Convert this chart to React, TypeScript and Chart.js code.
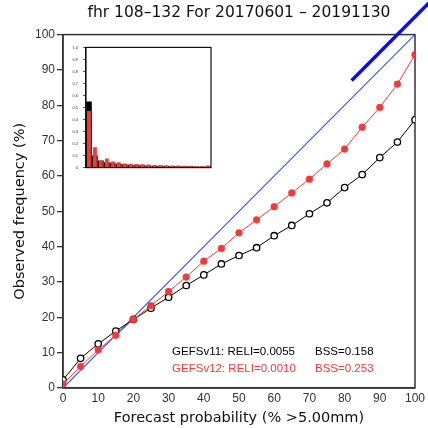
import React, { useEffect, useRef } from "react";
import { Chart, registerables } from "chart.js";

Chart.register(...registerables);

// ---- data ----
const probs = [0, 5, 10, 15, 20, 25, 30, 35, 40, 45, 50, 55, 60, 65, 70, 75, 80, 85, 90, 95, 100];
const gefsV11 = [2.3, 8.4, 12.5, 16.1, 19.4, 22.6, 25.7, 29.0, 32.0, 35.1, 37.5, 39.7, 43.1, 46.0, 49.3, 52.4, 56.7, 60.4, 65.2, 69.6, 75.9];
const gefsV12 = [1.1, 6.1, 10.8, 14.9, 19.4, 23.3, 27.3, 31.4, 35.9, 39.5, 43.9, 47.6, 51.3, 55.2, 59.1, 63.4, 67.6, 73.8, 79.4, 86.0, 94.3];
const perfectX = [0, 100];
const perfectY = [0, 100];
const outerLineX = [82, 104];
const outerLineY = [87, 109];
const histV11 = [0.55, 0.1, 0.06, 0.045, 0.04, 0.032, 0.028, 0.024, 0.022, 0.02, 0.018, 0.016, 0.015, 0.014, 0.013, 0.012, 0.011, 0.011, 0.01, 0.01, 0.01];
const histV12 = [0.47, 0.17, 0.055, 0.075, 0.05, 0.045, 0.035, 0.032, 0.03, 0.028, 0.025, 0.022, 0.02, 0.02, 0.018, 0.017, 0.016, 0.015, 0.014, 0.014, 0.018];

const titleText = "fhr 108–132 For 20170601 – 20191130";
const xTitle = "Forecast probability (% >5.00mm)";
const yTitle = "Observed frequency (%)";
const statsV11 = ["GEFSv11: RELI=0.0055", "BSS=0.158"];
const statsV12 = ["GEFSv12: RELI=0.0010", "BSS=0.253"];

const RED = "#f23a3a";
const AXIS = "#333333";
const FONT = "'DejaVu Sans', sans-serif";
const TFONT = "'Liberation Sans', sans-serif";

const framePlugin = {
  id: "frame",
  beforeDatasetsDraw(chart: any) {
    const { ctx, chartArea: a } = chart;
    ctx.save();
    ctx.strokeStyle = AXIS;
    ctx.lineWidth = 1.5;
    ctx.strokeRect(a.left, a.top, a.right - a.left, a.bottom - a.top);
    ctx.restore();
  },
};

const statsPlugin = {
  id: "stats",
  afterDraw(chart: any) {
    const { ctx, scales } = chart;
    const xs = scales.x;
    const ys = scales.y;
    ctx.save();
    ctx.font = `11.5px ${TFONT}`;
    ctx.textBaseline = "middle";
    ctx.textAlign = "left";
    const rows: [string[], string, number][] = [
      [statsV11, "#000000", 10.3],
      [statsV12, RED, 5.5],
    ];
    rows.forEach(([txt, col, yv]) => {
      ctx.fillStyle = col;
      ctx.fillText(txt[0], xs.getPixelForValue(31), ys.getPixelForValue(yv));
      ctx.fillText(txt[1], xs.getPixelForValue(71.6), ys.getPixelForValue(yv));
    });
    ctx.restore();
  },
};

const insetFrame = {
  id: "insetFrame",
  beforeDatasetsDraw(chart: any) {
    const { ctx, chartArea: a } = chart;
    ctx.save();
    ctx.fillStyle = "#ffffff";
    ctx.fillRect(a.left, a.top, a.right - a.left, a.bottom - a.top);
    ctx.restore();
  },
  afterDatasetsDraw(chart: any) {
    const { ctx, chartArea: a } = chart;
    ctx.save();
    ctx.strokeStyle = "#111";
    ctx.lineWidth = 1.2;
    ctx.strokeRect(a.left, a.top, a.right - a.left, a.bottom - a.top);
    ctx.restore();
  },
};

export default function App() {
  const mainRef = useRef<HTMLCanvasElement>(null);
  const insetRef = useRef<HTMLCanvasElement>(null);

  useEffect(() => {
    const toXY = (xs: number[], ys: number[]) => xs.map((x, i) => ({ x, y: ys[i] }));
    const main = new Chart(mainRef.current!, {
      type: "line",
      data: {
        datasets: [
          {
            data: toXY(probs, gefsV12),
            borderColor: RED,
            borderWidth: 1,
            pointRadius: 3.4,
            pointBackgroundColor: RED,
            pointBorderColor: RED,
            pointBorderWidth: 0.5,
          },
          {
            data: toXY(probs, gefsV11),
            borderColor: "#000000",
            borderWidth: 1,
            pointRadius: 3.2,
            pointBackgroundColor: "#ffffff",
            pointBorderColor: "#000000",
            pointBorderWidth: 1.3,
          },
          {
            data: toXY(perfectX, perfectY),
            borderColor: "#3048f0",
            borderWidth: 1.1,
            pointRadius: 0,
          },
          {
            data: toXY(outerLineX, outerLineY),
            borderColor: "#0a0aff",
            borderWidth: 3.5,
            pointRadius: 0,
            clip: false as any,
          },
        ],
      },
      options: {
        responsive: false,
        animation: false,
        devicePixelRatio: 1,
        layout: { padding: { left: 0, right: 12, top: 0, bottom: 0 } },
        plugins: {
          legend: { display: false },
          tooltip: { enabled: false },
          title: {
            display: true,
            text: titleText,
            fullSize: false,
            color: "#111",
            font: { family: FONT, size: 15.5, weight: "normal" as any, lineHeight: 1.2 },
            padding: { top: 4, bottom: 12 },
          },
        },
        scales: {
          x: {
            type: "linear",
            min: 0,
            max: 100,
            ticks: { stepSize: 10, color: AXIS, font: { family: TFONT, size: 12 }, padding: 3 },
            grid: { drawOnChartArea: false, drawTicks: false },
            border: { display: true, color: AXIS, width: 1.5 },
            title: {
              display: true,
              text: xTitle,
              color: "#111",
              font: { family: FONT, size: 14.5, lineHeight: 1.2 },
              padding: { top: 0, bottom: 1 },
            },
            afterFit: (s: any) => {
              s.height = 40;
            },
          },
          y: {
            type: "linear",
            min: 0,
            max: 100,
            ticks: { stepSize: 10, color: AXIS, font: { family: TFONT, size: 12 }, padding: 2 },
            grid: { drawOnChartArea: false, drawTicks: true, tickLength: 6, color: AXIS, lineWidth: 1.3 },
            border: { display: true, color: AXIS, width: 1.5 },
            title: {
              display: true,
              text: yTitle,
              color: "#111",
              font: { family: FONT, size: 14.5, lineHeight: 1.2 },
              padding: { top: 12, bottom: 0 },
            },
            afterFit: (s: any) => {
              s.width = 63;
            },
          },
        },
      },
      plugins: [framePlugin, statsPlugin],
    });

    const inset = new Chart(insetRef.current!, {
      type: "bar",
      data: {
        labels: probs.map(String),
        datasets: [
          {
            data: histV12,
            backgroundColor: RED,
            borderWidth: 0,
            barPercentage: 0.65,
            categoryPercentage: 1,
            grouped: false,
          } as any,
          {
            data: histV11,
            backgroundColor: "#000000",
            borderColor: "#000000",
            borderWidth: 0,
            barPercentage: 0.95,
            categoryPercentage: 1,
            grouped: false,
          } as any,
        ],
      },
      options: {
        responsive: false,
        animation: false,
        devicePixelRatio: 1,
        layout: { padding: { left: 0, right: 4, top: 5, bottom: 5 } },
        plugins: { legend: { display: false }, tooltip: { enabled: false } },
        scales: {
          x: { display: false },
          y: {
            min: 0,
            max: 1,
            ticks: { stepSize: 0.1, color: AXIS, font: { family: TFONT, size: 4 }, padding: 5 },
            grid: { drawOnChartArea: false, drawTicks: true, tickLength: 3, color: AXIS, lineWidth: 0.8 },
            border: { display: true, color: "#111", width: 1.2 },
            afterFit: (s: any) => {
              s.width = 20;
            },
          },
        },
      },
      plugins: [insetFrame],
    });

    return () => {
      main.destroy();
      inset.destroy();
    };
  }, []);

  return (
    <div style={{ position: "fixed", left: 0, top: 0, width: 428, height: 428, background: "#fff" }}>
      <canvas ref={mainRef} width={428} height={428} style={{ position: "absolute", left: 0, top: 0 }} />
      <canvas ref={insetRef} width={149} height={135} style={{ position: "absolute", left: 66, top: 40 }} />
    </div>
  );
}
